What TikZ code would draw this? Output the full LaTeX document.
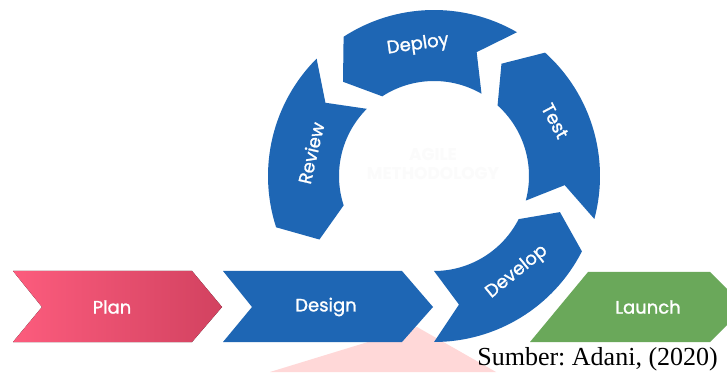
\documentclass[tikz,border=0pt]{standalone}
\usepackage{fontspec}
\setmainfont{Liberation Serif}
\newfontfamily\lblfont[FakeBold=1.3]{Poppins}
\newfontfamily\ghostfont{Poppins}
\frenchspacing
\definecolor{ringblue}{RGB}{30,102,180}
\definecolor{launchgreen}{RGB}{106,168,90}
\definecolor{planleft}{RGB}{252,92,125}
\definecolor{planright}{RGB}{210,66,96}
\definecolor{washpink}{RGB}{255,216,216}
\definecolor{ghost}{RGB}{251,251,251}

% ring geometry: outer, inner and mid radius, angular length of the arrow tip
\def\Ro{166}
\def\Ri{95}
\def\Rm{131}
\def\Tip{11}
% one arrow-shaped ring segment: #1 notched end angle, #2 pointed end angle
\newcommand\ringsegment[2]{%
  \fill[ringblue] (#1:\Ro) arc[start angle=#1,end angle=#2,radius=\Ro]
    -- ({#2+\Tip}:\Rm) -- (#2:\Ri)
    arc[start angle=#2,end angle=#1,radius=\Ri]
    -- ({#1+\Tip}:\Rm) -- cycle;}

\begin{document}
\begin{tikzpicture}[x=1pt,y=1pt,
  lbl/.style={text=white,font=\lblfont\fontsize{18}{18}\selectfont,inner sep=0pt},
  ghosttext/.style={text=ghost,font=\ghostfont\bfseries\fontsize{17}{19}\selectfont,align=center,inner sep=0pt}]
\fill[white] (0,0) rectangle (727,372);
\useasboundingbox (0,0) rectangle (727,372);

% pale wash behind the lower row
\fill[washpink] (270,0) -- (417,45) -- (496,0) -- cycle;

% lower row of chevrons
\fill[left color=planleft,right color=planright]
  (13,101) -- (192,101) -- (222,65) -- (192,30) -- (13,30) -- (42,65) -- cycle;
\fill[ringblue]
  (223,101) -- (402,101) -- (433,65) -- (402,30) -- (223,30) -- (252,65) -- cycle;
\fill[launchgreen]
  (588,100) -- (710,100) -- (745,65) -- (710,30) -- (530,30) -- cycle;

\node[lbl] (plan) at (112,65) {Plan};
\node[lbl] (design) at (326,65) {Design};
\node[lbl] (launch) at (648,65) {Launch};

% the cycle
\begin{scope}[shift={(434,196)}]
  \ringsegment{-90}{-27}
  \ringsegment{-15}{48}
  \ringsegment{60}{123}
  \ringsegment{135}{198}
\end{scope}

\node[lbl,rotate=39] (develop) at (517,100) {Develop};
\node[lbl,rotate=-62] (test) at (555,251) {Test};
\node[lbl,rotate=8] (deploy) at (418,327) {Deploy};
\node[lbl,rotate=77] (review) at (311,219) {Review};

\node[ghosttext] (agile) at (433,208) {AGILE\\METHODOLOGY};

\node[anchor=base east,inner sep=0pt,font=\fontsize{26}{28}\selectfont] (source) at (718,7) {Sumber: Adani, (2020)};
\end{tikzpicture}
\end{document}
